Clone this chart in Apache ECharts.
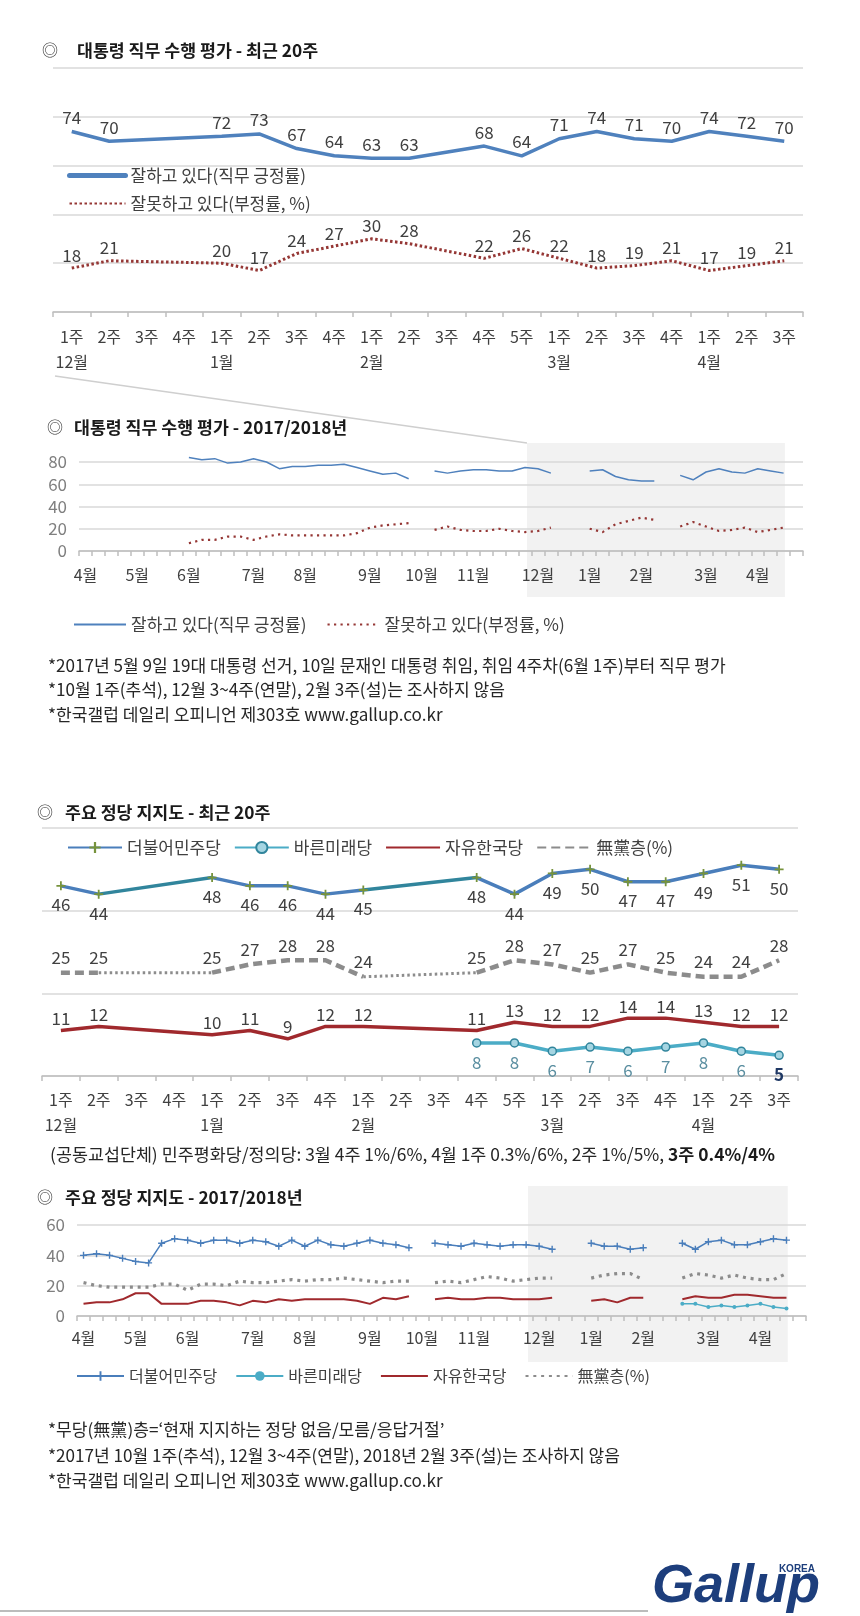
<!DOCTYPE html>
<html><head><meta charset="utf-8">
<script src="https://cdn.jsdelivr.net/npm/echarts@6/dist/echarts.min.js"></script>
<style>html,body{margin:0;padding:0;background:#fff}#c{width:860px;height:1616px}</style>
</head><body><div id="c"></div><script>
const FONT = "'Noto Sans CJK KR','Noto Sans',sans-serif";

// ---------- recent 20 weeks ----------
const weeks20 = ['1주','2주','3주','4주','1주','2주','3주','4주','1주','2주','3주','4주','5주','1주','2주','3주','4주','1주','2주','3주'];
const months20 = ['12월','','','','1월','','','','2월','','','','','3월','','','','4월','',''];
const approvalPos20 = [74,70,null,null,72,73,67,64,63,63,null,68,64,71,74,71,70,74,72,70];
const approvalNeg20 = [18,21,null,null,20,17,24,27,30,28,null,22,26,22,18,19,21,17,19,21];
const minjoo20  = [46,44,null,null,48,46,46,44,45,null,null,48,44,49,50,47,47,49,51,50];
const bareun20  = [null,null,null,null,null,null,null,null,null,null,null,8,8,6,7,6,7,8,6,5];
const liberty20 = [11,12,null,null,10,11,9,12,12,null,null,11,13,12,12,14,14,13,12,12];
const none20    = [25,25,null,null,25,27,28,28,24,null,null,25,28,27,25,27,25,24,24,28];

// ---------- weekly 2017/2018 (56 weeks, 2017 Apr wk1 .. 2018 Apr wk4) ----------
const longMonths = ['4월','5월','6월','7월','8월','9월','10월','11월','12월','1월','2월','3월','4월'];
const longMonthStart = [0,4,8,13,17,22,26,30,35,39,43,48,52];
const weekCount = 56;
const approvalPosWeekly = [null,null,null,null,null,null,null,null,
  84,82,83,79,80,83,80,74,76,76,77,77,78,75,72,69,70,65,
  null,
  72,70,72,73,73,72,72,75,74,70,
  null,null,
  72,73,67,64,63,63,
  null,
  68,64,71,74,71,70,74,72,70,
  null];
const approvalNegWeekly = [null,null,null,null,null,null,null,null,
  7,10,10,13,13,10,13,15,14,14,14,14,14,16,21,23,24,25,
  null,
  19,22,19,18,18,20,18,17,18,21,
  null,null,
  20,17,24,27,30,28,
  null,
  22,26,22,18,19,21,17,19,21,
  null];
const minjooWeekly = [40,41,40,38,36,35,48,51,50,48,50,50,48,50,49,46,50,46,50,47,46,48,50,48,47,45,
  null,
  48,47,46,48,47,46,47,47,46,44,
  null,null,
  48,46,46,44,45,
  null,null,
  48,44,49,50,47,47,49,51,50,
  null];
const bareunWeekly = [null,null,null,null,null,null,null,null,null,null,null,null,null,null,null,null,
  null,null,null,null,null,null,null,null,null,null,null,null,null,null,null,null,
  null,null,null,null,null,null,null,null,null,null,null,null,null,null,
  8,8,6,7,6,7,8,6,5,
  null];
const libertyWeekly = [8,9,9,11,15,15,8,8,8,10,10,9,7,10,9,11,10,11,11,11,11,10,8,12,11,13,
  null,
  11,12,11,11,12,12,11,11,11,12,
  null,null,
  10,11,9,12,12,
  null,null,
  11,13,12,12,14,14,13,12,12,
  null];
const noneWeekly = [22,20,19,19,19,19,21,21,17,21,21,20,23,22,22,23,24,23,24,24,25,24,23,22,23,23,
  null,
  22,23,22,24,26,25,23,24,25,25,
  null,null,
  25,27,28,28,24,
  null,null,
  25,28,27,25,27,25,24,24,28,
  null];

// ---------- helpers ----------
const cats20 = weeks20.map((w, i) => i + '|' + w);
const catsWeekly = [];
for (let i = 0; i < weekCount; i++) catsWeekly.push(String(i));
function monthLabel(i) { const k = longMonthStart.indexOf(i); return k >= 0 ? longMonths[k] : ''; }
function gapSegments(arr) {
  const segs = []; let last = -1;
  for (let i = 0; i < arr.length; i++) {
    if (arr[i] != null) {
      if (last >= 0 && i - last > 1) {
        const d = arr.map(() => null); d[last] = arr[last]; d[i] = arr[i]; segs.push(d);
      }
      last = i;
    }
  }
  return segs;
}
const PLUS = 'path://M4,0H6V4H10V6H6V10H4V6H0V4H4Z';
const GRID_LINE = {show: true, lineStyle: {color: '#D9D9D9', width: 1.5}};
const AXIS_LINE = {show: true, lineStyle: {color: '#BFBFBF', width: 1.5}};
const AXIS_TICK = {show: true, interval: 0, length: 5, lineStyle: {color: '#BFBFBF', width: 1.5}};
const LBL = {fontFamily: FONT, fontSize: 17, color: '#404040'};

function xRecent(grid, margin) {
  return {type: 'category', gridIndex: grid, data: cats20, boundaryGap: true,
    axisLine: AXIS_LINE, axisTick: AXIS_TICK,
    axisLabel: {interval: 0, margin: margin, fontFamily: FONT, fontSize: 16, color: '#404040', lineHeight: 25,
      formatter: (v, i) => weeks20[i] + '\n' + (months20[i] || ' ')}};
}
function xWeekly(grid, margin) {
  return {type: 'category', gridIndex: grid, data: catsWeekly, boundaryGap: true,
    axisLine: AXIS_LINE, axisTick: AXIS_TICK,
    axisLabel: {interval: 0, margin: margin, fontFamily: FONT, fontSize: 16, color: '#404040',
      formatter: (v, i) => monthLabel(i)}};
}
function yAxis(grid, max, showLabel) {
  return {type: 'value', gridIndex: grid, min: 0, max: max, interval: 20,
    axisLine: {show: false}, axisTick: {show: false}, splitLine: GRID_LINE,
    axisLabel: {show: showLabel, fontFamily: FONT, fontSize: 17, color: '#7F7F7F', margin: 12}};
}
function base(xi, data, extra) {
  return Object.assign({type: 'line', xAxisIndex: xi, yAxisIndex: xi, data: data, animation: false,
    silent: true, emphasis: {disabled: true}}, extra);
}
const HIDDEN_SYMBOL = {symbol: 'circle', symbolSize: 1, itemStyle: {color: 'rgba(0,0,0,0)'}};
const NO_SYMBOL = {symbol: 'circle', showSymbol: false, itemStyle: {color: 'rgba(0,0,0,0)'}};

const series = [];
// Chart 1: approval recent 20
series.push(base(0, approvalPos20, Object.assign({name: '잘하고 있다(직무 긍정률)', connectNulls: true,
  lineStyle: {color: '#4F81BD', width: 3.5},
  label: Object.assign({show: true, position: 'top', distance: 5}, LBL)}, HIDDEN_SYMBOL)));
series.push(base(0, approvalNeg20, Object.assign({name: '잘못하고 있다(부정률, %)', connectNulls: true,
  lineStyle: {color: '#953735', width: 3, type: [2.5, 2.5]},
  label: Object.assign({show: true, position: 'top', distance: 4}, LBL)}, HIDDEN_SYMBOL)));
// Chart 2: approval weekly
series.push(base(1, approvalPosWeekly, Object.assign({name: '잘하고 있다(직무 긍정률) ', clip: false,
  lineStyle: {color: '#4F81BD', width: 1.5}}, NO_SYMBOL)));
series.push(base(1, approvalNegWeekly, Object.assign({name: '잘못하고 있다(부정률, %) ', clip: false,
  lineStyle: {color: '#953735', width: 2.2, type: [2.2, 4.3]}}, NO_SYMBOL)));
// Chart 3: parties recent 20
gapSegments(minjoo20).forEach((d, k) => series.push(base(2, d, {name: 'gapM' + k, symbol: 'none', connectNulls: true,
  lineStyle: {color: '#31859C', width: 3.5}, z: 1})));
gapSegments(none20).forEach((d, k) => series.push(base(2, d, {name: 'gapN' + k, symbol: 'none', connectNulls: true,
  lineStyle: {color: '#8C8C8C', width: 3, type: [2.5, 3]}, z: 1})));
series.push(base(2, none20, Object.assign({name: '無黨층(%)', lineStyle: {color: '#8C8C8C', width: 4.5, type: [9, 5]},
  label: Object.assign({show: true, position: 'top', distance: 6}, LBL)}, HIDDEN_SYMBOL)));
series.push(base(2, liberty20, Object.assign({name: '자유한국당', connectNulls: true, lineStyle: {color: '#A0292D', width: 3.5},
  label: Object.assign({show: true, position: 'top', distance: 3}, LBL)}, HIDDEN_SYMBOL)));
const lastB = bareun20.length - 1;
series.push(base(2, bareun20.map((v, i) => i === lastB ? {value: v, label: {fontWeight: 'bold', color: '#1F3864'}} : v),
  {name: '바른미래당', symbol: 'circle', symbolSize: 8,
  lineStyle: {color: '#4BACC6', width: 3.5},
  itemStyle: {color: '#A5D5E2', borderColor: '#31859C', borderWidth: 1.5},
  label: Object.assign({show: true, position: 'bottom', distance: 6}, LBL, {color: '#5A8EA0'})}));
series.push(base(2, minjoo20, {name: '더불어민주당', symbol: PLUS, symbolSize: 9,
  lineStyle: {color: '#4A7EBB', width: 3.5}, itemStyle: {color: '#77933C'},
  label: Object.assign({show: true, position: 'bottom', distance: 6}, LBL)}));
// Chart 4: parties weekly
series.push(base(3, noneWeekly, Object.assign({name: '無黨층(%) ', lineStyle: {color: '#8C8C8C', width: 3.2, type: [3, 4.8]}}, NO_SYMBOL)));
series.push(base(3, libertyWeekly, Object.assign({name: '자유한국당 ', lineStyle: {color: '#A0292D', width: 2}}, NO_SYMBOL)));
series.push(base(3, bareunWeekly, {name: '바른미래당 ', symbol: 'circle', symbolSize: 4,
  lineStyle: {color: '#4BACC6', width: 1.5}, itemStyle: {color: '#4BACC6'}}));
series.push(base(3, minjooWeekly, {name: '더불어민주당 ', symbol: PLUS, symbolSize: 7,
  lineStyle: {color: '#4A7EBB', width: 1.5}, itemStyle: {color: '#4A7EBB'}}));

const legendText = {fontFamily: FONT, fontSize: 17, color: '#404040'};
const option = {
  backgroundColor: '#fff',
  animation: false,
  grid: [
    {left: 53, width: 750, top: 68, height: 244},
    {left: 79, width: 724, top: 462, height: 89},
    {left: 42, width: 756, top: 828, height: 248},
    {left: 77, width: 729, top: 1225, height: 91}
  ],
  xAxis: [xRecent(0, 12), xWeekly(1, 16), xRecent(2, 11), xWeekly(3, 14)],
  yAxis: [yAxis(0, 100, false), yAxis(1, 80, true), yAxis(2, 60, false), yAxis(3, 60, true)],
  legend: [
    {orient: 'vertical', left: 62, top: 162, itemGap: 11, itemWidth: 56, itemHeight: 14, selectedMode: false,
      textStyle: legendText,
      data: [{name: '잘하고 있다(직무 긍정률)', lineStyle: {width: 5, cap: 'round'}}, '잘못하고 있다(부정률, %)']},
    {orient: 'horizontal', left: 68, top: 611, itemGap: 20, itemWidth: 52, itemHeight: 14, selectedMode: false,
      textStyle: legendText, formatter: n => n.trim(), data: ['잘하고 있다(직무 긍정률) ', '잘못하고 있다(부정률, %) ']},
    {orient: 'horizontal', left: 62, top: 834, itemGap: 13, itemWidth: 54, itemHeight: 14, selectedMode: false,
      textStyle: legendText, data: ['더불어민주당', '바른미래당', '자유한국당', '無黨층(%)']},
    {orient: 'horizontal', left: 71, top: 1363, itemGap: 18, itemWidth: 47, itemHeight: 12, selectedMode: false,
      textStyle: Object.assign({}, legendText, {fontSize: 16}), formatter: n => n.trim(),
      data: ['더불어민주당 ', '바른미래당 ', '자유한국당 ', '無黨층(%) ']}
  ],
  series: series
};
const chart = echarts.init(document.getElementById('c'), null, {renderer: 'canvas'});
chart.setOption(option);

// ---------- decorations computed from the axes ----------
function px(ax, i) { return chart.convertToPixel({xAxisIndex: ax}, i); }
function py(ax, v) { return chart.convertToPixel({yAxisIndex: ax}, v); }
const b1 = px(1, 1) - px(1, 0), b3 = px(3, 1) - px(3, 0);
const shade1 = {x0: px(1, 35) - 0.85 * b1, x1: px(1, 54) + 0.1 * b1, y0: py(1, 80) - 19, y1: py(1, 0) + 46};
const shade3 = {x0: px(3, 35) - 0.85 * b3, x1: px(3, 54) + 0.1 * b3, y0: py(3, 60) - 39, y1: py(3, 0) + 46};

function txt(x, y, s, font, fill, extra) {
  return Object.assign({type: 'text', x: x, y: y, silent: true,
    style: {text: s, font: font, fill: fill || '#1a1a1a', align: 'left', verticalAlign: 'middle'}}, extra || {});
}
const TF = 'bold 17.3px ' + FONT;
const NF = '17.1px ' + FONT;
const g = [
  {type: 'rect', z: -10, silent: true, shape: {x: shade1.x0, y: shade1.y0, width: shade1.x1 - shade1.x0, height: shade1.y1 - shade1.y0}, style: {fill: '#F2F2F2'}},
  {type: 'rect', z: -10, silent: true, shape: {x: shade3.x0, y: shade3.y0, width: shade3.x1 - shade3.x0, height: shade3.y1 - shade3.y0}, style: {fill: '#F2F2F2'}},
  {type: 'line', z: -5, silent: true, shape: {x1: 55, y1: 376, x2: shade1.x0, y2: shade1.y0}, style: {stroke: '#CFCFCF', lineWidth: 1.5}},
  txt(42, 50, '◎', '16px ' + FONT, '#333'), txt(77, 50, '대통령 직무 수행 평가 - 최근 20주', TF),
  txt(47, 427, '◎', '16px ' + FONT, '#333'), txt(74, 427, '대통령 직무 수행 평가 - 2017/2018년', TF),
  txt(37, 812, '◎', '16px ' + FONT, '#333'), txt(65, 812, '주요 정당 지지도 - 최근 20주', TF),
  txt(37, 1197, '◎', '16px ' + FONT, '#333'), txt(65, 1197, '주요 정당 지지도 - 2017/2018년', TF),
  txt(48, 665, '*2017년 5월 9일 19대 대통령 선거, 10일 문재인 대통령 취임, 취임 4주차(6월 1주)부터 직무 평가', NF, '#262626'),
  txt(48, 689, '*10월 1주(추석), 12월 3~4주(연말), 2월 3주(설)는 조사하지 않음', NF, '#262626'),
  txt(48, 714, '*한국갤럽 데일리 오피니언 제303호 www.gallup.co.kr', NF, '#262626'),
  {type: 'text', x: 50, y: 1154, silent: true, style: {
    text: '{n|(공동교섭단체) 민주평화당/정의당: 3월 4주 1%/6%, 4월 1주 0.3%/6%, 2주 1%/5%, }{b|3주 0.4%/4%}',
    verticalAlign: 'middle', align: 'left',
    rich: {n: {fontFamily: FONT, fontSize: 17.4, fill: '#262626'}, b: {fontFamily: FONT, fontSize: 17.4, fontWeight: 'bold', fill: '#1a1a1a'}}}},
  txt(48, 1429, '*무당(無黨)층=‘현재 지지하는 정당 없음/모름/응답거절’', NF, '#262626'),
  txt(48, 1455, '*2017년 10월 1주(추석), 12월 3~4주(연말), 2018년 2월 3주(설)는 조사하지 않음', NF, '#262626'),
  txt(48, 1480, '*한국갤럽 데일리 오피니언 제303호 www.gallup.co.kr', NF, '#262626'),
  {type: 'line', silent: true, shape: {x1: 0, y1: 1611, x2: 648, y2: 1611}, style: {stroke: '#A6A6A6', lineWidth: 1.5}},
  {type: 'text', x: 652, y: 1614, silent: true, style: {text: 'Gallup', font: 'italic bold 54px "Liberation Sans"', fill: '#1D3E7C', align: 'left', verticalAlign: 'bottom'}},
  {type: 'text', x: 815, y: 1569, silent: true, style: {text: 'KOREA', font: 'bold 10px "Liberation Sans"', fill: '#1D3E7C', align: 'right', verticalAlign: 'middle'}}
];
chart.setOption({graphic: {elements: g}});
</script></body></html>
